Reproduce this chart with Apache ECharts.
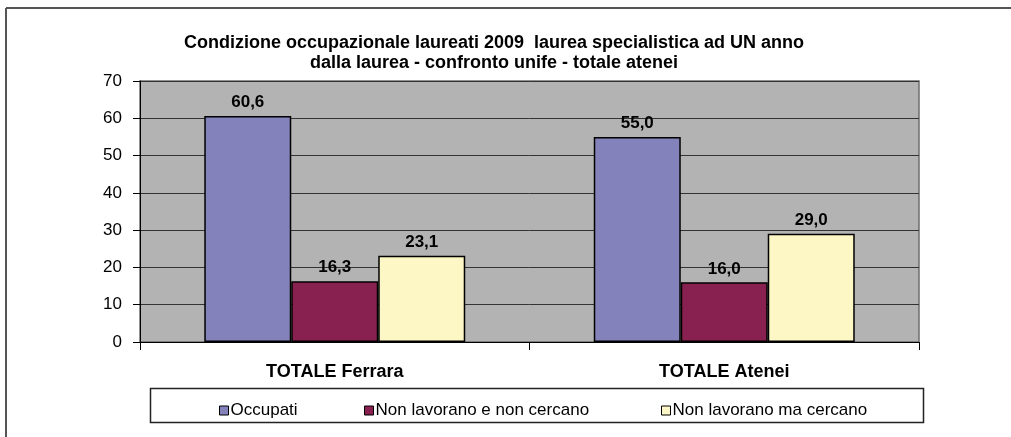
<!DOCTYPE html>
<html>
<head>
<meta charset="utf-8">
<script src="https://cdn.jsdelivr.net/npm/echarts@6/dist/echarts.min.js"></script>
<style>
html,body{margin:0;padding:0;background:#fff;}
#chart{width:1011px;height:437px;}
</style>
</head>
<body>
<div id="chart"></div>
<script>
const categories = ['TOTALE Ferrara', 'TOTALE Atenei'];
const seriesNames = ['Occupati', 'Non lavorano e non cercano', 'Non lavorano ma cercano'];
const occupati = [60.6, 55.0];
const nonLavNonCercano = [16.3, 16.0];
const nonLavCercano = [23.1, 29.0];
const yTicks = [0, 10, 20, 30, 40, 50, 60, 70];
const titleLines = ['Condizione occupazionale laureati 2009  laurea specialistica ad UN anno', 'dalla laurea - confronto unife - totale atenei'];

const colors = ['#8482bb', '#88214f', '#fdf6c5'];
const FONT = "'Liberation Sans', Arial, sans-serif";
const seriesData = [occupati, nonLavNonCercano, nonLavCercano];
const legendLefts = [214, 359, 656];

const chart = echarts.init(document.getElementById('chart'), null, {renderer: 'canvas'});

const series = seriesNames.map((name, i) => ({
  name: name,
  type: 'bar',
  data: seriesData[i],
  barGap: '0%',
  barCategoryGap: '33%',
  itemStyle: {color: colors[i], borderColor: '#000', borderWidth: 1.5},
  label: {
    show: true, position: 'top', distance: 5,
    fontFamily: FONT, fontSize: 17, fontWeight: 'bold', color: '#000',
    formatter: p => p.value.toFixed(1).replace('.', ',')
  }
}));

const legends = seriesNames.map((name, i) => ({
  data: [name],
  left: legendLefts[i], top: 397,
  itemWidth: 9, itemHeight: 9,
  icon: 'rect',
  selectedMode: false,
  itemStyle: {borderColor: '#000', borderWidth: 1},
  textStyle: {fontFamily: FONT, fontSize: 17, color: '#000', padding: [0, 0, 0, -3]}
}));

chart.setOption({
  animation: false,
  backgroundColor: '#fff',
  textStyle: {fontFamily: FONT},
  title: {
    text: titleLines.join('\n'),
    left: 489, top: 28, textAlign: 'center',
    textStyle: {fontFamily: FONT, fontSize: 18, fontWeight: 'bold', color: '#000', lineHeight: 20}
  },
  grid: {
    left: 140, right: 92, top: 81, bottom: 95,
    show: true, backgroundColor: '#b3b3b3', borderColor: '#6e6e6e', borderWidth: 1.5
  },
  legend: legends,
  xAxis: {
    type: 'category',
    data: categories,
    axisLine: {show: true, lineStyle: {color: '#000', width: 1}},
    axisTick: {show: true, length: 8, interval: 0, lineStyle: {color: '#000'}},
    axisLabel: {fontFamily: FONT, fontSize: 18, fontWeight: 'bold', color: '#000', margin: 21},
    splitLine: {show: false}
  },
  yAxis: {
    type: 'value',
    min: yTicks[0], max: yTicks[yTicks.length - 1], interval: 10,
    axisLine: {show: true, lineStyle: {color: '#000', width: 1}},
    axisTick: {show: true, length: 7, lineStyle: {color: '#000'}},
    axisLabel: {fontFamily: FONT, fontSize: 17, color: '#000', margin: 18},
    splitLine: {show: true, lineStyle: {color: '#333', width: 1}}
  },
  series: series,
  graphic: [
    {type: 'line', shape: {x1: 6, y1: 8, x2: 1011, y2: 8}, style: {stroke: '#555', lineWidth: 2}, z: 100},
    {type: 'line', shape: {x1: 6, y1: 8, x2: 6, y2: 437}, style: {stroke: '#555', lineWidth: 2}, z: 100},
    {type: 'rect', shape: {x: 150.5, y: 388.5, width: 773, height: 34}, style: {fill: 'none', stroke: '#222', lineWidth: 1.5}, z: 100}
  ]
});
</script>
</body>
</html>
